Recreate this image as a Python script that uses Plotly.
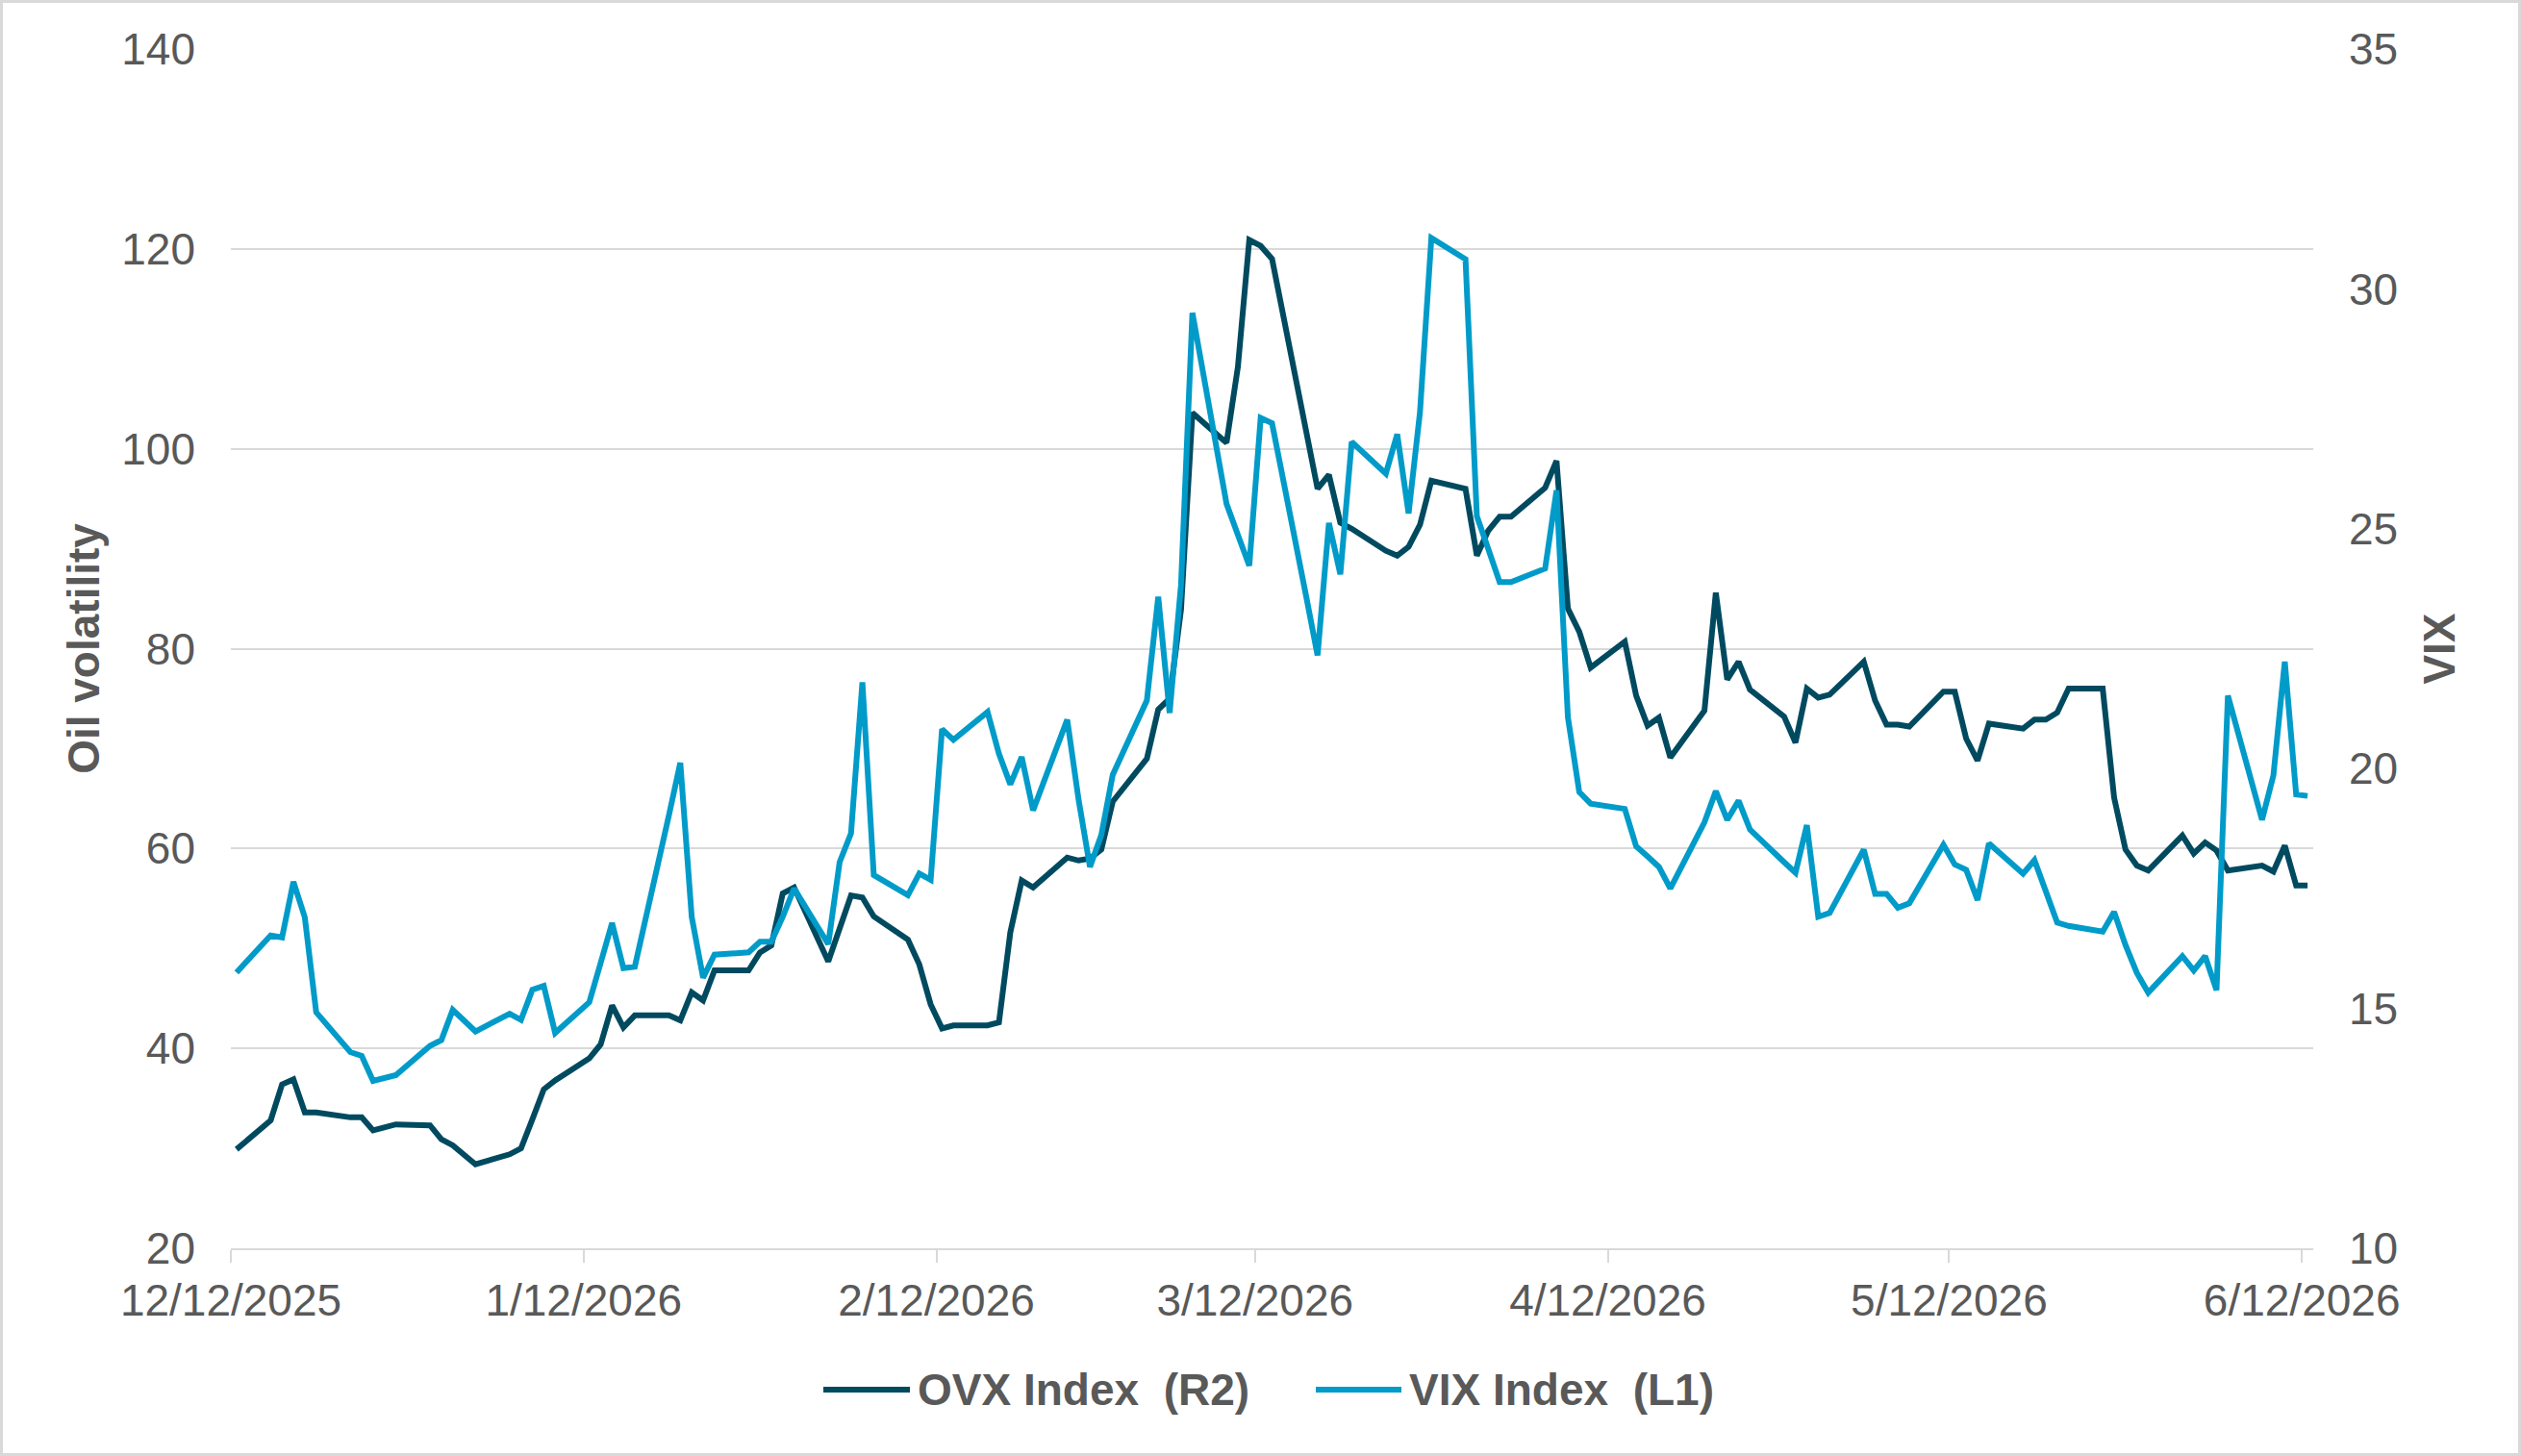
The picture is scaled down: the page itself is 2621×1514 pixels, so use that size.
import plotly.graph_objects as go

# ---------------- data ----------------
dates = [
    "2025-12-12", "2025-12-15", "2025-12-16", "2025-12-17", "2025-12-18", "2025-12-19",
    "2025-12-22", "2025-12-23", "2025-12-24", "2025-12-26", "2025-12-29", "2025-12-30",
    "2025-12-31", "2026-01-02", "2026-01-05", "2026-01-06", "2026-01-07", "2026-01-08",
    "2026-01-09", "2026-01-12", "2026-01-13", "2026-01-14", "2026-01-15", "2026-01-16",
    "2026-01-19", "2026-01-20", "2026-01-21", "2026-01-22", "2026-01-23", "2026-01-26",
    "2026-01-27", "2026-01-28", "2026-01-29", "2026-01-30", "2026-02-02", "2026-02-03",
    "2026-02-04", "2026-02-05", "2026-02-06", "2026-02-09", "2026-02-10", "2026-02-11",
    "2026-02-12", "2026-02-13", "2026-02-16", "2026-02-17", "2026-02-18", "2026-02-19",
    "2026-02-20", "2026-02-23", "2026-02-24", "2026-02-25", "2026-02-26", "2026-02-27",
    "2026-03-02", "2026-03-03", "2026-03-04", "2026-03-05", "2026-03-06", "2026-03-09",
    "2026-03-10", "2026-03-11", "2026-03-12", "2026-03-13", "2026-03-16", "2026-03-17",
    "2026-03-18", "2026-03-19", "2026-03-20", "2026-03-23", "2026-03-24", "2026-03-25",
    "2026-03-26", "2026-03-27", "2026-03-30", "2026-03-31", "2026-04-01", "2026-04-02",
    "2026-04-03", "2026-04-06", "2026-04-07", "2026-04-08", "2026-04-09", "2026-04-10",
    "2026-04-13", "2026-04-14", "2026-04-15", "2026-04-16", "2026-04-17", "2026-04-20",
    "2026-04-21", "2026-04-22", "2026-04-23", "2026-04-24", "2026-04-27", "2026-04-28",
    "2026-04-29", "2026-04-30", "2026-05-01", "2026-05-04", "2026-05-05", "2026-05-06",
    "2026-05-07", "2026-05-08", "2026-05-11", "2026-05-12", "2026-05-13", "2026-05-14",
    "2026-05-15", "2026-05-18", "2026-05-19", "2026-05-20", "2026-05-21", "2026-05-22",
    "2026-05-25", "2026-05-26", "2026-05-27", "2026-05-28", "2026-05-29", "2026-06-01",
    "2026-06-02", "2026-06-03", "2026-06-04", "2026-06-05", "2026-06-08", "2026-06-09",
    "2026-06-10", "2026-06-11", "2026-06-12",
]

ovx = [
    29.9, 32.8, 36.4, 36.9, 33.6, 33.6,
    33.1, 33.1, 31.8, 32.4, 32.3, 30.9,
    30.3, 28.4, 29.4, 30.0, 32.9, 35.9,
    36.8, 39.0, 40.4, 44.3, 42.1, 43.3,
    43.3, 42.8, 45.6, 44.8, 47.8, 47.8,
    49.6, 50.3, 55.5, 56.1, 48.7, 52.2,
    55.3, 55.1, 53.2, 50.9, 48.4, 44.4,
    42.0, 42.3, 42.3, 42.6, 51.6, 56.8,
    56.1, 59.1, 58.8, 59.0, 59.9, 64.7,
    69.0, 73.9, 75.0, 83.9, 103.6, 100.6,
    108.2, 120.9, 120.3, 119.0, 101.8, 96.0,
    97.4, 92.6, 92.0, 89.8, 89.3, 90.2,
    92.4, 96.8, 96.0, 89.3, 91.8, 93.2,
    93.2, 96.1, 98.8, 84.0, 81.7, 78.1,
    80.7, 75.3, 72.3, 73.1, 69.1, 73.8,
    85.6, 76.9, 78.7, 75.9, 73.2, 70.6,
    76.0, 75.1, 75.4, 78.7, 74.8, 72.4,
    72.4, 72.2, 75.7, 75.7, 71.0, 68.8,
    72.5, 72.0, 72.9, 72.9, 73.6, 76.0,
    76.0, 65.1, 59.9, 58.3, 57.8, 61.3,
    59.5, 60.6, 59.8, 57.8, 58.3, 57.7,
    60.3, 56.3, 56.3,
]

vix = [
    15.75, 16.52, 16.48, 17.64, 16.90, 14.92,
    14.09, 14.01, 13.49, 13.61, 14.22, 14.34,
    14.97, 14.52, 14.89, 14.76, 15.39, 15.47,
    14.49, 15.13, 15.95, 16.78, 15.84, 15.87,
    19.03, 20.12, 16.91, 15.64, 16.12, 16.17,
    16.39, 16.39, 16.91, 17.50, 16.34, 18.05,
    18.65, 21.80, 17.78, 17.36, 17.81, 17.68,
    20.82, 20.60, 21.18, 20.31, 19.67, 20.24,
    19.13, 21.02, 19.35, 17.95, 18.62, 19.87,
    21.42, 23.58, 21.16, 23.83, 29.50, 25.52,
    24.87, 24.23, 27.31, 27.20, 23.59, 22.36,
    25.12, 24.05, 26.81, 26.15, 26.97, 25.32,
    27.43, 31.06, 30.62, 25.26, 24.58, 23.89,
    23.89, 24.17, 25.80, 21.07, 19.51, 19.27,
    19.16, 18.38, 18.17, 17.95, 17.50, 18.88,
    19.53, 18.93, 19.33, 18.73, 18.05, 17.83,
    18.82, 16.91, 16.99, 18.31, 17.39, 17.39,
    17.10, 17.19, 18.41, 18.00, 17.89, 17.26,
    18.44, 17.81, 18.09, 17.44, 16.79, 16.72,
    16.60, 17.01, 16.32, 15.74, 15.33, 16.09,
    15.79, 16.09, 15.38, 21.52, 18.93, 19.86,
    22.23, 19.46, 19.43,
]

tick_dates = ["2025-12-12", "2026-01-12", "2026-02-12", "2026-03-12",
              "2026-04-12", "2026-05-12", "2026-06-12"]
tick_labels = ["12/12/2025", "1/12/2026", "2/12/2026", "3/12/2026",
               "4/12/2026", "5/12/2026", "6/12/2026"]

ovx_name = "OVX Index\u00a0\u00a0(R2)"
vix_name = "VIX Index\u00a0\u00a0(L1)"

# ---------------- styling ----------------
DARK = "#004A60"
LIGHT = "#009BC9"
GRID = "#D9D9D9"
TXT = "#595959"
FONT = "Liberation Sans, Arial, sans-serif"
FS = 46
LW = 6

W, H = 2621, 1514
L, R, T, B = 240, 216, 51, 216
PW = W - L - R
PH = H - T - B


def px(x):
    return (x - L) / PW


def py(y):
    return (H - B - y) / PH


fig = go.Figure()
fig.add_trace(go.Scatter(
    x=dates, y=ovx, name=ovx_name, mode="lines",
    line=dict(color=DARK, width=LW),
    xperiod=86400000, xperiodalignment="middle",
    yaxis="y", showlegend=False,
))
fig.add_trace(go.Scatter(
    x=dates, y=vix, name=vix_name, mode="lines",
    line=dict(color=LIGHT, width=LW),
    xperiod=86400000, xperiodalignment="middle",
    yaxis="y2", showlegend=False,
))

shapes = [
    # outer border
    dict(type="rect", xref="paper", yref="paper",
         x0=px(1.5), x1=px(W - 1.5), y0=py(H - 1.5), y1=py(1.5),
         line=dict(color=GRID, width=3), layer="below"),
    # custom legend lines
    dict(type="line", xref="paper", yref="paper",
         x0=px(856), x1=px(946), y0=py(1445), y1=py(1445),
         line=dict(color=DARK, width=6)),
    dict(type="line", xref="paper", yref="paper",
         x0=px(1368), x1=px(1457), y0=py(1445), y1=py(1445),
         line=dict(color=LIGHT, width=6)),
]

annotations = [
    dict(text=ovx_name, xref="paper", yref="paper", x=px(952), y=py(1445),
         xanchor="left", yanchor="middle", showarrow=False,
         font=dict(family=FONT, size=FS, color=TXT, weight="bold")),
    dict(text=vix_name, xref="paper", yref="paper", x=px(1463), y=py(1445),
         xanchor="left", yanchor="middle", showarrow=False,
         font=dict(family=FONT, size=FS, color=TXT, weight="bold")),
]

fig.update_layout(
    width=W, height=H,
    margin=dict(l=L, r=R, t=T, b=B, autoexpand=False),
    paper_bgcolor="white", plot_bgcolor="white",
    font=dict(family=FONT, size=FS, color=TXT),
    showlegend=False,
    shapes=shapes,
    annotations=annotations,
    xaxis=dict(
        type="date",
        range=["2025-12-12", "2026-06-13"],
        tickmode="array", tickvals=tick_dates, ticktext=tick_labels,
        ticks="outside", ticklen=13, tickwidth=2, tickcolor=GRID,
        showline=True, linecolor=GRID, linewidth=2,
        showgrid=False, zeroline=False,
        tickfont=dict(family=FONT, size=FS, color=TXT),
        ticklabelstandoff=0,
        automargin=False,
    ),
    yaxis=dict(
        range=[20, 140], dtick=20, tick0=20,
        showgrid=True, gridcolor=GRID, gridwidth=2,
        zeroline=False, showline=False, ticks="",
        tickfont=dict(family=FONT, size=FS, color=TXT),
        ticklabelstandoff=36,
        title=dict(text="Oil volatility", standoff=8,
                   font=dict(family=FONT, size=FS, color=TXT, weight="bold")),
        automargin=False,
    ),
    yaxis2=dict(
        range=[10, 35], dtick=5, tick0=10,
        overlaying="y", side="right",
        showgrid=False, zeroline=False, showline=False, ticks="",
        tickfont=dict(family=FONT, size=FS, color=TXT),
        ticklabelstandoff=36,
        title=dict(text="VIX", standoff=27,
                   font=dict(family=FONT, size=FS, color=TXT, weight="bold")),
        automargin=False,
    ),
)

fig.write_html("out.html")
